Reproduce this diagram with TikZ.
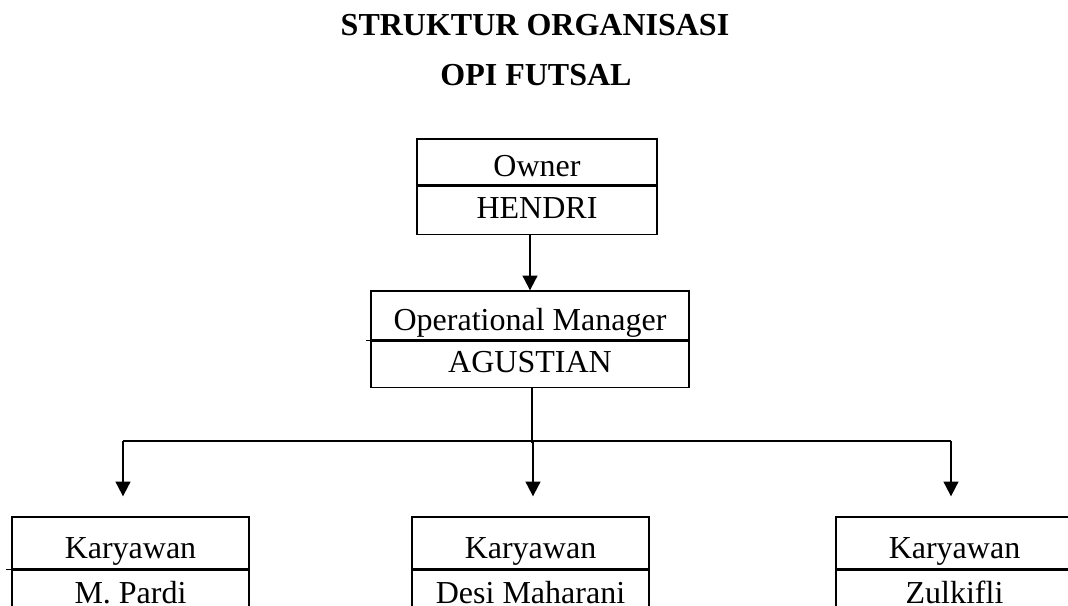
\documentclass[tikz,border=0pt]{standalone}
\usepackage{fontspec}
\setmainfont{Liberation Serif}
\usetikzlibrary{positioning,arrows.meta,calc}

\begin{document}
\begin{tikzpicture}[
    x=0.75pt, y=-0.75pt,
    font=\fontsize{24pt}{28pt}\selectfont,
    % Box halves: upper = job title, lower = person
    boxpart/.style={draw=black, line width=1pt, inner sep=0pt, align=center},
    jobbox/.style={boxpart, text height=22.5pt, text depth=0pt},
    persbox/.style={boxpart, text height=16pt, text depth=4pt},
    % Title lines
    heading/.style={font=\fontsize{24pt}{28pt}\selectfont\bfseries, anchor=base, inner sep=0pt},
    % Lines and arrows
    wire/.style={line width=1.5pt, draw=black},
    arr/.style={wire, -{Triangle[length=11pt, width=11pt]}},
    stub/.style={line width=1pt, draw=black},
]

% page 1068 x 606 px, 1 unit = 1 px
\useasboundingbox (0,0) rectangle (1068,606);
\clip (0,0) rectangle (1068,606);

%% ── Title ──
\node[heading] (t1) at (535, 36) {STRUKTUR ORGANISASI};
\node[heading] (t2) at (536, 86) {OPI FUTSAL};

%% ── Owner ──
\node[jobbox, minimum width=180pt, minimum height=34.5pt] (ownT) at (537,162) {Owner};
\node[persbox, minimum width=180pt, minimum height=36pt, below=0pt of ownT] (ownN) {HENDRI};

%% ── Operational Manager ──
\node[jobbox, minimum width=238.5pt, minimum height=36.75pt] (mgrT) at (530,315.5) {Operational Manager};
\node[persbox, minimum width=238.5pt, minimum height=34.5pt, below=0pt of mgrT] (mgrN) {AGUSTIAN};
\draw[stub] ([xshift=-3pt]mgrT.south west) -- (mgrT.south west);

%% ── Karyawan ──
\node[jobbox, minimum width=177.75pt, minimum height=39pt] (kw1T) at (130.5,543) {Karyawan};
\node[persbox, minimum width=177.75pt, minimum height=37.5pt, below=0pt of kw1T] (kw1N) {M. Pardi};
\draw[stub] ([xshift=-4pt]kw1T.south west) -- (kw1T.south west);

\node[jobbox, minimum width=177.75pt, minimum height=39pt] (kw2T) at (530.5,543) {Karyawan};
\node[persbox, minimum width=177.75pt, minimum height=37.5pt, below=0pt of kw2T] (kw2N) {Desi Maharani};

\node[jobbox, minimum width=177.75pt, minimum height=39pt] (kw3T) at (954.5,543) {Karyawan};
\node[persbox, minimum width=177.75pt, minimum height=37.5pt, below=0pt of kw3T] (kw3N) {Zulkifli};

%% ── Branch points ──
\coordinate (bus) at (532,441);
\coordinate (b1)  at (123,441);
\coordinate (b2)  at (533,441);
\coordinate (b3)  at (951,441);

%% ── Connectors ──
\draw[arr] (mgrT.north |- ownN.south) -- (mgrT.north);
\draw[wire] (mgrN.south -| bus) -- ($(bus)+(0,2)$);
\draw[wire] (b1) -- (b3);
\draw[arr, shorten >=15pt] (b1) -- (b1 |- kw1T.north);
\draw[arr, shorten >=15pt] (b2) -- (b2 |- kw2T.north);
\draw[arr, shorten >=15pt] (b3) -- (b3 |- kw3T.north);

\end{tikzpicture}
\end{document}
